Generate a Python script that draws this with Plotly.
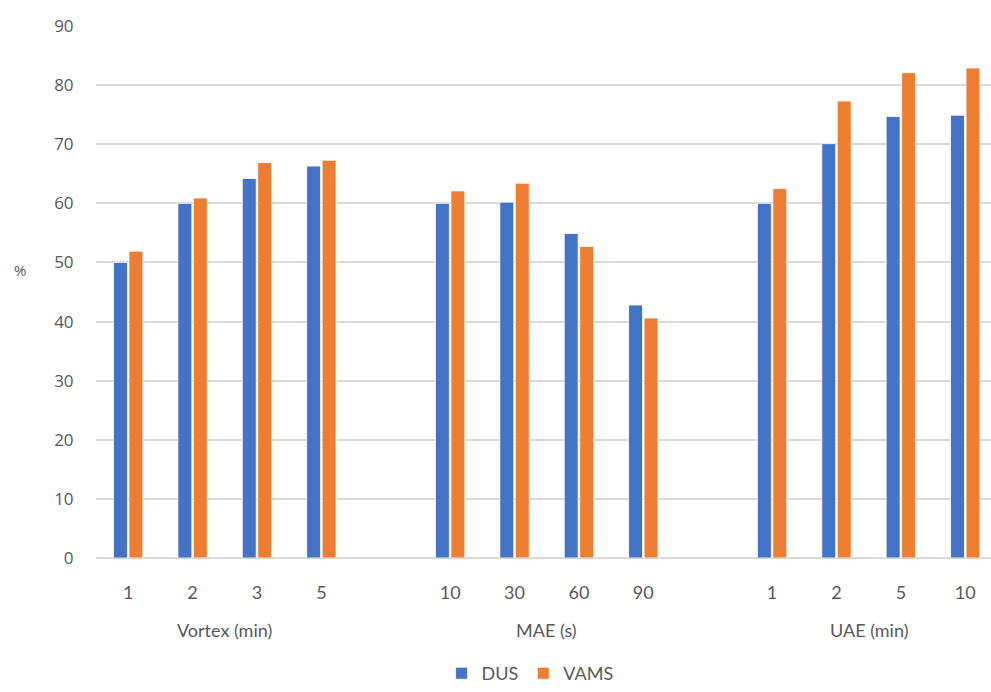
import plotly.graph_objects as go

# Extraction conditions, grouped by method
groups = ["Vortex (min)", "MAE (s)", "UAE (min)"]
conditions = [["1", "2", "3", "5"], ["10", "30", "60", "90"], ["1", "2", "5", "10"]]

# Recovery (%) per condition, in the same order as above
dus = [50.0, 60.0, 64.2, 66.3,
       60.0, 60.2, 54.9, 42.8,
       60.0, 70.1, 74.7, 74.9]
vams = [51.9, 60.9, 66.9, 67.3,
        62.1, 63.4, 52.7, 40.6,
        62.5, 77.3, 82.1, 82.9]

y_ticks = [0, 10, 20, 30, 40, 50, 60, 70, 80, 90]

# Slot positions on the x axis: one empty slot between method groups
slot = 5
xpos, xlabels = [], []
for g, conds in enumerate(conditions):
    for i, c in enumerate(conds):
        xpos.append(g * slot + i)
        xlabels.append(c)
group_centers = [g * slot + (len(c) - 1) / 2 for g, c in enumerate(conditions)]

fig = go.Figure()
fig.add_trace(go.Bar(x=xpos, y=dus, name="DUS",
                     marker=dict(color="#4472C4", line=dict(color="white", width=0.8))))
fig.add_trace(go.Bar(x=xpos, y=vams, name="VAMS",
                     marker=dict(color="#ED7D31", line=dict(color="white", width=0.8))))

text_color = "#595959"

for name, cx in zip(groups, group_centers):
    fig.add_annotation(x=cx, y=-0.135, xref="x", yref="paper", text=name,
                       showarrow=False, yanchor="middle", xanchor="center",
                       font=dict(family="Lato", size=18, color=text_color))

fig.add_annotation(x=-0.085, y=0.541, xref="paper", yref="paper", text="%",
                   showarrow=False, xanchor="center", yanchor="middle",
                   font=dict(family="Open Sans", size=15, color=text_color))

fig.update_layout(
    width=991, height=692,
    margin=dict(l=96, r=0, t=26, b=134),
    paper_bgcolor="white", plot_bgcolor="white",
    barmode="group", bargap=0.52, bargroupgap=0.1,
    showlegend=True,
    legend=dict(orientation="h", x=0.485, xanchor="center",
                yref="container", y=-0.008, yanchor="bottom",
                font=dict(family="Lato", size=18, color=text_color),
                itemwidth=30, traceorder="normal"),
    xaxis=dict(range=[-0.5, 13.4], tickmode="array", tickvals=xpos, ticktext=xlabels,
               showgrid=False, zeroline=False, showline=False,
               ticks="outside", ticklen=18, tickcolor="rgba(0,0,0,0)",
               tickfont=dict(family="Lato", size=18, color=text_color)),
    yaxis=dict(range=[0, 90], tickmode="array", tickvals=y_ticks,
               showgrid=True, gridcolor="#D9D9D9", gridwidth=1.6,
               zeroline=True, zerolinecolor="#D9D9D9", zerolinewidth=1.6,
               showline=False,
               ticks="outside", ticklen=18, tickcolor="rgba(0,0,0,0)",
               tickfont=dict(family="Open Sans", size=17, color=text_color)),
)

fig.write_html("out.html")
